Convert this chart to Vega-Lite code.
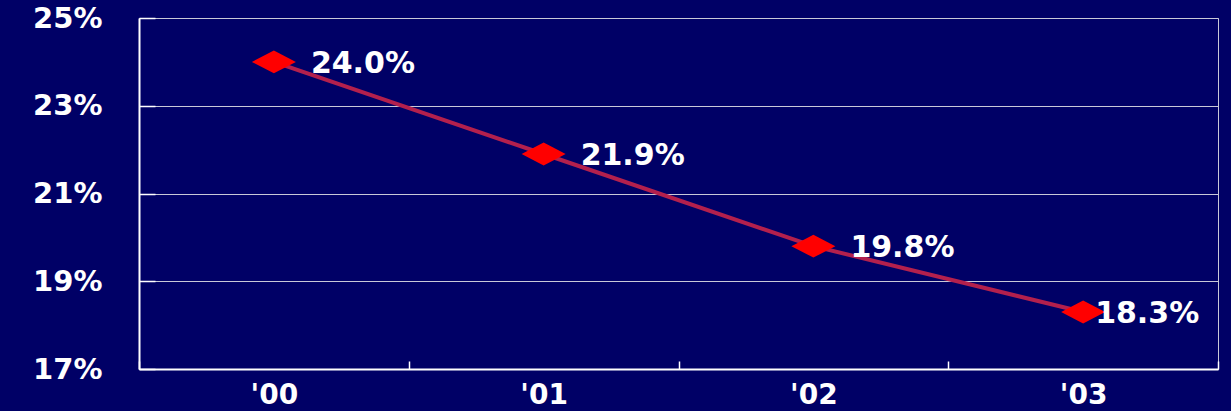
{
  "$schema": "https://vega.github.io/schema/vega-lite/v6.json",
  "width": 1079,
  "height": 351,
  "autosize": "none",
  "padding": {"left": 139, "top": 18, "right": 13, "bottom": 42},
  "background": "#000066",
  "config": {
    "view": {"stroke": "#c8c8d8", "strokeWidth": 1},
    "font": "DejaVu Sans"
  },
  "data": {
    "values": [
      {"year": "'00", "rate": 24.0, "label": "24.0%", "last": false},
      {"year": "'01", "rate": 21.9, "label": "21.9%", "last": false},
      {"year": "'02", "rate": 19.8, "label": "19.8%", "last": false},
      {"year": "'03", "rate": 18.3, "label": "18.3%", "last": true}
    ]
  },
  "encoding": {
    "x": {
      "field": "year",
      "type": "nominal",
      "sort": null,
      "scale": {"paddingInner": 0, "paddingOuter": 0},
      "axis": {
        "title": null,
        "labelAngle": 0,
        "labelColor": "white",
        "labelFont": "DejaVu Sans",
        "labelFontWeight": "bold",
        "labelFontSize": 28,
        "labelPadding": 20,
        "labelBaseline": "top",
        "domainColor": "white",
        "domainWidth": 2,
        "tickColor": "white",
        "tickWidth": 1.5,
        "tickSize": -8,
        "tickBand": "extent",
        "grid": false
      }
    },
    "y": {
      "field": "rate",
      "type": "quantitative",
      "scale": {"domain": [17, 25], "nice": false, "zero": false},
      "axis": {
        "title": null,
        "values": [17, 19, 21, 23, 25],
        "labelExpr": "datum.value + '%'",
        "labelColor": "white",
        "labelFont": "DejaVu Sans",
        "labelFontWeight": "bold",
        "labelFontSize": 29,
        "labelPadding": 53,
        "domainColor": "white",
        "domainWidth": 2,
        "tickColor": "white",
        "tickWidth": 1.5,
        "tickSize": -16,
        "grid": true,
        "gridColor": "#c8c8d8",
        "gridWidth": 1
      }
    }
  },
  "layer": [
    {
      "mark": {"type": "line", "color": "#b3204d", "strokeWidth": 4}
    },
    {
      "mark": {
        "type": "point",
        "shape": "M-1,0L0,-0.52L1,0L0,0.52Z",
        "size": 1936,
        "filled": true,
        "color": "#ff0000",
        "opacity": 1
      }
    },
    {
      "transform": [{"filter": "!datum.last"}],
      "mark": {
        "type": "text",
        "align": "left",
        "baseline": "middle",
        "dx": 37,
        "dy": 2,
        "fontSize": 30,
        "fontWeight": "bold",
        "font": "DejaVu Sans",
        "color": "white"
      },
      "encoding": {"text": {"field": "label"}}
    },
    {
      "transform": [{"filter": "datum.last"}],
      "mark": {
        "type": "text",
        "align": "left",
        "baseline": "middle",
        "dx": 12,
        "dy": 2,
        "fontSize": 30,
        "fontWeight": "bold",
        "font": "DejaVu Sans",
        "color": "white"
      },
      "encoding": {"text": {"field": "label"}}
    }
  ]
}
